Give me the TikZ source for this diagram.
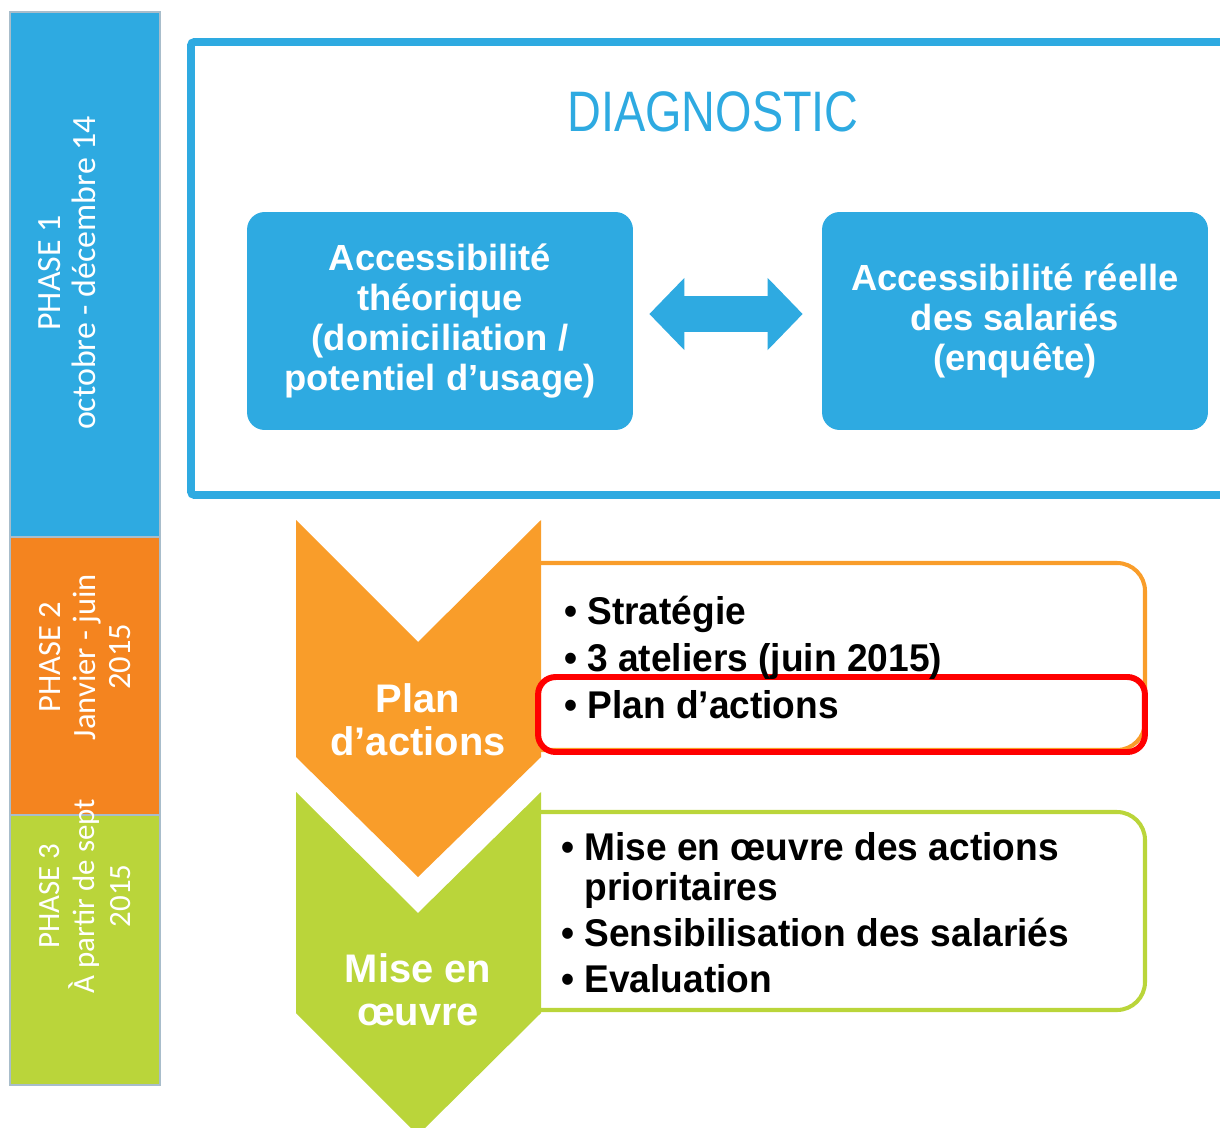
\documentclass[tikz,border=0pt]{standalone}
\usepackage{fontspec}
\setmainfont{Liberation Sans}
\newfontfamily\phasefont{Carlito}
\newfontfamily\narrowfont[FakeStretch=0.82]{Liberation Sans}
\newfontfamily\listfont[FakeStretch=0.96]{Liberation Sans}
\usepackage{tikz}
\usetikzlibrary{arrows.meta}
\definecolor{diagblue}{HTML}{2EAAE1}
\definecolor{phaseorange}{HTML}{F4841F}
\definecolor{planorange}{HTML}{F99D2A}
\definecolor{misegreen}{HTML}{BAD53A}
\definecolor{barborder}{HTML}{A8BDCB}
\tikzset{phasebar/.style={draw=barborder,line width=1.2pt},
  phasetext/.style={rotate=90,text=white,align=center,font=\phasefont\fontsize{18.5}{20}\selectfont},
  accbox/.style={fill=diagblue,rounded corners=10pt,minimum width=7.72cm,minimum height=4.36cm,text=white,align=center,font=\bfseries\fontsize{20.7}{22.7}\selectfont},
  dblarrow/.style={diagblue,line width=0.74cm,{Triangle[width=1.4cm,length=0.7cm]}-{Triangle[width=1.4cm,length=0.7cm]},shorten <=0.32cm,shorten >=0.38cm},
  chevtext/.style={text=white,align=center,font=\bfseries\fontsize{22.7}{24.4}\selectfont},
  itemlist/.style={anchor=base west,align=left,font=\listfont\bfseries\fontsize{22}{26.6}\selectfont},
  listframe/.style={line width=2.3pt,rounded corners=16pt},
  focusbox/.style={draw=red,line width=3.4pt,rounded corners=10pt,minimum width=12.14cm,minimum height=1.5cm}}
\newcommand{\bul}{\makebox[0.6em][l]{\textbullet}}

\begin{document}
\begin{tikzpicture}[x=0.02cm,y=-0.02cm]
  \useasboundingbox (0,0) rectangle (1220,1128);
  \clip (0,0) rectangle (1220,1128);

  \filldraw[phasebar,fill=diagblue] (10,12) rectangle (160,537);
  \filldraw[phasebar,fill=phaseorange] (10,537) rectangle (160,815);
  \filldraw[phasebar,fill=misegreen] (10,815) rectangle (160,1085);
  \node[phasetext,font=\phasefont\fontsize{19.3}{20}\selectfont] (phase1) at (67,273) {PHASE 1\\octobre - décembre 14};
  \node[phasetext] (phase2) at (85,657) {PHASE 2\\Janvier - juin\\2015};
  \node[phasetext,font=\phasefont\fontsize{17.6}{20}\selectfont] (phase3) at (85,896) {PHASE 3\\À partir de sept\\2015};

  \draw[diagblue,line width=4.5pt,rounded corners=2pt] (191,42) rectangle (1250,495);
  \node[text=diagblue,font=\narrowfont\fontsize{32.5}{34}\selectfont] (diag) at (713,112) {DIAGNOSTIC};
  \node[accbox] (acc-th) at (440,321) {Accessibilité\\théorique\\(domiciliation /\\potentiel d’usage)};
  \node[accbox] (acc-re) at (1015,321) {Accessibilité réelle\\des salariés\\(enquête)};
  \draw[dblarrow] ([yshift=0.14cm]acc-th.east) -- ([yshift=0.14cm]acc-re.west);

  \draw[planorange,listframe] (530,563) -- (1145,563) -- (1145,750) -- (530,750);
  \fill[planorange] (296,520) -- (418,642) -- (541,520) -- (541,757) -- (418,877) -- (296,757) -- cycle;
  \node[chevtext] (plan-label) at (418,720) {Plan\\d’actions};
  \node[focusbox] (focus) at (841.5,714.5) {};
  \node[itemlist] (plan-items) at (558,718) {\bul Stratégie\\\bul 3 ateliers (juin 2015)\\\bul Plan d’actions};

  \draw[misegreen,listframe] (530,812) -- (1145,812) -- (1145,1010) -- (530,1010);
  \fill[misegreen] (296,792) -- (418,913) -- (541,792) -- (541,1013) -- (418,1135) -- (296,1013) -- cycle;
  \node[chevtext] (mise-label) at (418,990) {Mise en\\œuvre};
  \node[itemlist,font=\listfont\bfseries\fontsize{22}{22.7}\selectfont] (mise-items) at (555,992)
    {\bul Mise en œuvre des actions\\\hspace*{0.6em}prioritaires\\[3.4pt]\bul Sensibilisation des salariés\\[3.4pt]\bul Evaluation};
\end{tikzpicture}
\end{document}
